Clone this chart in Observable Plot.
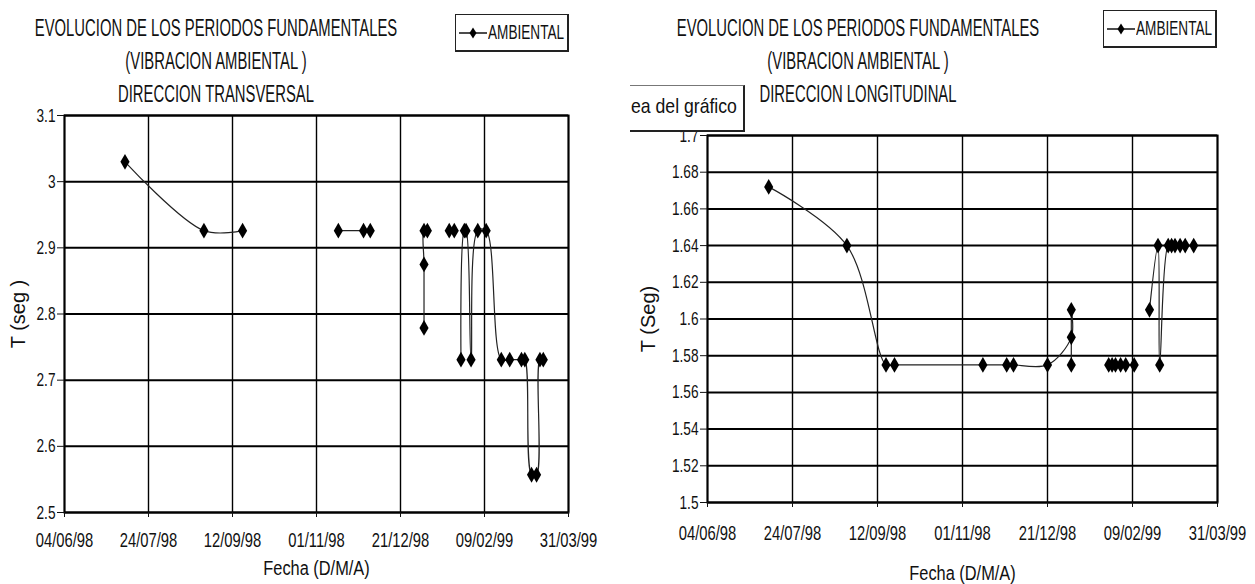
<!DOCTYPE html>
<html>
<head>
<meta charset="utf-8">
<script src="https://cdn.jsdelivr.net/npm/d3@7"></script>
<script src="https://cdn.jsdelivr.net/npm/@observablehq/plot@0.6"></script>
<style>
  html, body { margin: 0; padding: 0; background: #fff; }
  body { width: 1255px; height: 584px; overflow: hidden; position: relative;
         font-family: "Liberation Sans", Arial, sans-serif; color: #111; }
  .title { position: absolute; white-space: nowrap; font-size: 23px; line-height: 33px; text-align: center;
           transform: translateX(-50%) scaleX(0.645); transform-origin: center top; }
  .legend { position: absolute; height: 38px; border: 1px solid #222; border-right-width: 2px; border-bottom-width: 2px;
            background: #fff; white-space: nowrap; box-sizing: border-box; }
  .legend svg { position: absolute; left: 3px; top: 12px; }
  .legend span { position: absolute; left: 32px; top: 6px; font-size: 20px; transform: scaleX(0.68); transform-origin: left top; }
  .plotbox { position: absolute; }
  .tip { position: absolute; left: 630px; top: 85px; width: 115px; height: 47px; background: #fff;
         border: 1px solid #777; border-left: none; border-right: 2px solid #222; border-bottom: 2px solid #222;
         box-sizing: border-box; z-index: 5; }
  .tip span { position: absolute; left: 1px; top: 8px; font-size: 21px; white-space: nowrap;
              transform: scaleX(0.84); transform-origin: left top; }
  g[aria-label="y-axis label"] { font-size: 20px !important; }
  g[aria-label="x-axis label"] { font-size: 21px !important; }
</style>
</head>
<body>
<div id="root"></div>
<script>
// ---------- data ----------
const tickDates = ["1998-06-04", "1998-07-24", "1998-09-12", "1998-11-01", "1998-12-21", "1999-02-09", "1999-03-31"];

// Dirección transversal (null = gap in the series)
const transDates = ["1998-07-10", "1998-08-26", "1998-09-18", "1998-10-15",
  "1998-11-14", "1998-11-29", "1998-12-03", "1998-12-20",
  "1999-01-04", "1999-01-04", "1999-01-04", "1999-01-06", "1999-01-12",
  "1999-01-19", "1999-01-22", "1999-01-24",
  "1999-01-26", "1999-01-28", "1999-01-29", "1999-02-01", "1999-02-05", "1999-02-10",
  "1999-02-19", "1999-02-24", "1999-03-03", "1999-03-05", "1999-03-09", "1999-03-12",
  "1999-03-14", "1999-03-16"];
const transValues = [3.03, 2.926, 2.926, null,
  2.926, 2.926, 2.926, null,
  2.779, 2.875, 2.926, 2.926, null,
  2.926, 2.926, null,
  2.731, 2.926, 2.926, 2.731, 2.926, 2.926,
  2.731, 2.731, 2.731, 2.731, 2.557, 2.557,
  2.731, 2.731];
const transTicks = [2.5, 2.6, 2.7, 2.8, 2.9, 3, 3.1];

// Dirección longitudinal
const longDates = ["1998-07-10", "1998-08-25", "1998-09-17", "1998-09-22",
  "1998-11-13", "1998-11-27", "1998-12-01", "1998-12-21",
  "1999-01-04", "1999-01-04", "1999-01-04", "1999-01-15",
  "1999-01-26", "1999-01-28", "1999-01-30", "1999-02-02", "1999-02-05", "1999-02-10", "1999-02-14",
  "1999-02-19", "1999-02-24", "1999-02-25",
  "1999-03-02", "1999-03-04", "1999-03-06", "1999-03-09", "1999-03-12", "1999-03-17"];
const longValues = [1.672, 1.64, 1.575, 1.575,
  1.575, 1.575, 1.575, 1.575,
  1.59, 1.605, 1.575, null,
  1.575, 1.575, 1.575, 1.575, 1.575, 1.575, null,
  1.605, 1.64, 1.575,
  1.64, 1.64, 1.64, 1.64, 1.64, 1.64];
const longTicks = [1.5, 1.52, 1.54, 1.56, 1.58, 1.6, 1.62, 1.64, 1.66, 1.68, 1.7];

const titleLines = ["EVOLUCION DE LOS PERIODOS FUNDAMENTALES", "(VIBRACION AMBIENTAL )"];
const dirTrans = "DIRECCION TRANSVERSAL";
const dirLong = "DIRECCION LONGITUDINAL";
const legendLabel = "AMBIENTAL";
const tipLabel = "ea del gráfico";

// ---------- helpers ----------
const FONT = '"Liberation Sans", Arial, sans-serif';
const parse = s => new Date(s + "T00:00:00Z");
const fmtDate = d3.utcFormat("%d/%m/%y");
const root = document.getElementById("root");

// horizontally condense the svg texts (the original uses a narrow font)
function squeeze(svg, selector, s) {
  svg.querySelectorAll(selector).forEach(t => {
    let tr = t.getAttribute("transform") || "";
    const x = t.getAttribute("x");
    if (x != null && x !== "" && !isNaN(+x)) { tr += ` translate(${x},0)`; t.removeAttribute("x"); }
    t.setAttribute("transform", (tr + ` scale(${s},1)`).trim());
  });
}

function makePanel(o) {
  const data = o.dates.map((d, i) => ({date: parse(d), value: o.values[i]}));
  const ticks = tickDates.map(parse);
  const chart = Plot.plot({
    width: o.width, height: o.height,
    marginLeft: o.ml, marginRight: o.mr, marginTop: o.mt, marginBottom: o.mb,
    style: {fontFamily: FONT, fontSize: "18px", color: "#111", background: "transparent", overflow: "visible"},
    x: {type: "utc", domain: [ticks[0], ticks[ticks.length - 1]]},
    y: {domain: [o.yTicks[0], o.yTicks[o.yTicks.length - 1]]},
    marks: [
      Plot.gridY(o.yTicks, {stroke: "#000", strokeOpacity: 1, strokeWidth: 2}),
      Plot.gridX(ticks, {stroke: "#000", strokeOpacity: 1, strokeWidth: 1.4}),
      Plot.frame({stroke: "#000", strokeWidth: 2}),
      Plot.axisY(o.yTicks, {tickSize: 7, tickPadding: 2, tickFormat: d => String(d), fontSize: 19,
        label: o.yLabel, labelAnchor: "center", labelArrow: "none", labelOffset: o.yLabelOffset}),
      Plot.axisX(ticks, {tickSize: 5, tickPadding: o.xTickPad, tickFormat: fmtDate, fontSize: 20,
        label: "Fecha (D/M/A)", labelAnchor: "center", labelArrow: "none", labelOffset: o.xLabelOffset}),
      Plot.line(data, {x: "date", y: "value", curve: "catmull-rom", stroke: "#222", strokeWidth: 1.2}),
      Plot.dot(data.filter(d => d.value != null), {x: "date", y: "value", symbol: "diamond", r: 4.8, fill: "#000", stroke: "none"})
    ]
  });
  squeeze(chart, 'g[aria-label="x-axis tick label"] text', 0.74);
  squeeze(chart, 'g[aria-label="y-axis tick label"] text', 0.72);
  squeeze(chart, 'g[aria-label="x-axis label"] text', 0.78);

  const box = document.createElement("div");
  box.className = "plotbox";
  box.style.left = o.left + "px";
  box.style.top = o.top + "px";
  box.appendChild(chart);
  root.appendChild(box);

  // titles
  const lines = [titleLines[0], titleLines[1], o.dir];
  lines.forEach((t, i) => {
    const el = document.createElement("div");
    el.className = "title";
    el.textContent = t;
    el.style.left = o.titleX + "px";
    el.style.top = (12 + i * 33) + "px";
    root.appendChild(el);
  });

  // legend
  const lg = document.createElement("div");
  lg.className = "legend";
  lg.style.left = o.legX + "px";
  lg.style.top = o.legY + "px";
  lg.style.width = o.legW + "px";
  lg.innerHTML = '<svg width="28" height="12"><line x1="0" y1="6" x2="28" y2="6" stroke="#111" stroke-width="1.5"/>' +
    '<path d="M14 0.5 L17.5 6 L14 11.5 L10.5 6 Z" fill="#000"/></svg><span></span>';
  lg.querySelector("span").textContent = legendLabel;
  root.appendChild(lg);
}

makePanel({dates: transDates, values: transValues, yTicks: transTicks, yLabel: "T (seg )", dir: dirTrans,
  left: 0, top: 100, width: 600, height: 484, ml: 64, mr: 32, mt: 15, mb: 72,
  yLabelOffset: 54, xLabelOffset: 62, xTickPad: 15,
  titleX: 216, legX: 455, legY: 14, legW: 114});

makePanel({dates: longDates, values: longValues, yTicks: longTicks, yLabel: "T (Seg)", dir: dirLong,
  left: 630, top: 120, width: 625, height: 464, ml: 77, mr: 38, mt: 15, mb: 82,
  yLabelOffset: 67, xLabelOffset: 77, xTickPad: 18,
  titleX: 858, legX: 1103, legY: 10, legW: 114});

// chart-area tooltip (as visible in the original screenshot)
const tip = document.createElement("div");
tip.className = "tip";
tip.innerHTML = "<span></span>";
tip.querySelector("span").textContent = tipLabel;
root.appendChild(tip);
</script>
</body>
</html>
